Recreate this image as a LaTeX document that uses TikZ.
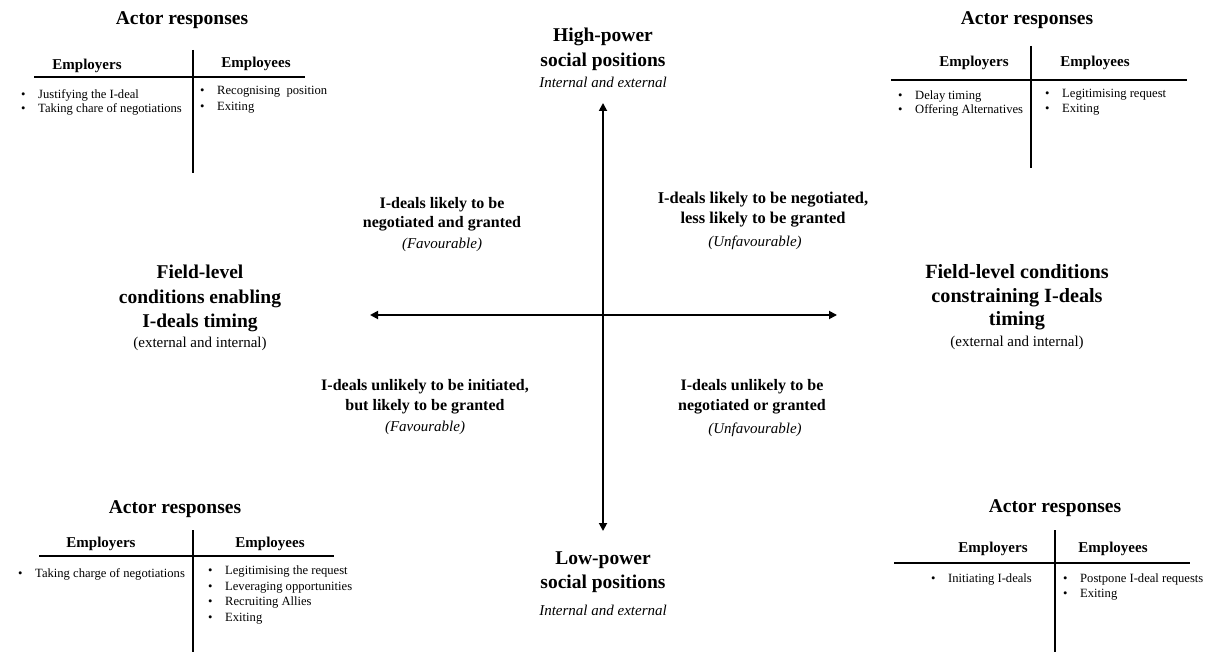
\documentclass[tikz,border=0pt]{standalone}
\usepackage{fontspec}
\setmainfont{Liberation Serif}
\usetikzlibrary{arrows.meta}

\tikzset{
  title/.style={font=\bfseries\fontsize{19.5}{22}\selectfont, anchor=base, inner sep=0pt},
  bigtitle/.style={font=\bfseries\fontsize{20.2}{23}\selectfont, anchor=base, inner sep=0pt},
  colhead/.style={font=\bfseries\fontsize{15}{18}\selectfont, anchor=base, inner sep=0pt},
  entry/.style={font=\fontsize{12.6}{15}\selectfont, anchor=base west, inner sep=0pt},
  quad/.style={font=\bfseries\fontsize{16}{19}\selectfont, anchor=base, inner sep=0pt},
  bigquad/.style={font=\bfseries\fontsize{16.5}{19}\selectfont, anchor=base, inner sep=0pt},
  note/.style={font=\itshape\fontsize{15}{18}\selectfont, anchor=base, inner sep=0pt},
  plain/.style={font=\fontsize{15}{18}\selectfont, anchor=base, inner sep=0pt},
  rule/.style={line width=1.3pt},
  axis/.style={line width=1.8pt, {Triangle[width=8pt,length=8pt]}-{Triangle[width=8pt,length=8pt]}},
}
\newcommand{\bul}[1]{\makebox[17pt][l]{\textbullet}#1}

\begin{document}
\begin{tikzpicture}[x=1pt,y=-1pt]
\useasboundingbox[fill=white] (0,0) rectangle (1209,652);

% ---------- axes ----------
\coordinate (top) at (603,103);
\coordinate (bottom) at (603,531);
\coordinate (left) at (370,315);
\coordinate (right) at (837,315);
\draw[axis] (bottom) -- (top);
\draw[axis] (left) -- (right);

% ---------- pole labels ----------
\node[title] (hp1) at (603,42) {High-power};
\node[title] (hp2) at (603,67) {social positions};
\node[note]  (hp3) at (603,88) {Internal and external};

\node[title] (lp1) at (603,564) {Low-power};
\node[title] (lp2) at (603,588) {social positions};
\node[note]  (lp3) at (603,615) {Internal and external};

\node[title] (fe1) at (200,278) {Field-level};
\node[title] (fe2) at (200,303) {conditions enabling};
\node[title] (fe3) at (200,327) {I-deals timing};
\node[plain] (fe4) at (200,347) {(external and internal)};

\node[bigtitle] (fc1) at (1017,278) {Field-level conditions};
\node[bigtitle] (fc2) at (1017,302) {constraining I-deals};
\node[bigtitle] (fc3) at (1017,325) {timing};
\node[plain] (fc4) at (1017,346) {(external and internal)};

% ---------- quadrant labels ----------
\node[quad] (q11) at (442,209) {I-deals likely to be};
\node[quad] (q12) at (442,228) {negotiated and granted};
\node[note] (q13) at (442,248) {(Favourable)};

\node[bigquad] (q21) at (763,204) {I-deals likely to be negotiated,};
\node[bigquad] (q22) at (763,224) {less likely to be granted};
\node[note] (q23) at (755,247) {(Unfavourable)};

\node[quad] (q31) at (425,390) {I-deals unlikely to be initiated,};
\node[quad] (q32) at (425,410) {but likely to be granted};
\node[note] (q33) at (425,431) {(Favourable)};

\node[quad] (q41) at (752,390) {I-deals unlikely to be};
\node[quad] (q42) at (752,410) {negotiated or granted};
\node[note] (q43) at (755,433) {(Unfavourable)};

% ---------- actor responses: top left ----------
\node[title] (tlT) at (182,25) {Actor responses};
\coordinate (tlV1) at (193,50);  \coordinate (tlV2) at (193,173);
\coordinate (tlH1) at (34,77);   \coordinate (tlH2) at (305,77);
\draw[rule] (tlV1) -- (tlV2);
\draw[rule] (tlH1) -- (tlH2);
\node[colhead] (tlA) at (87,70) {Employers};
\node[colhead] (tlB) at (256,68) {Employees};
\node[entry] (tlA1) at (21,99)  {\bul{Justifying the I-deal}};
\node[entry] (tlA2) at (21,113) {\bul{Taking chare of negotiations}};
\node[entry] (tlB1) at (200,95) {\bul{Recognising\ \ position}};
\node[entry] (tlB2) at (200,111) {\bul{Exiting}};

% ---------- actor responses: top right ----------
\node[title] (trT) at (1027,25) {Actor responses};
\coordinate (trV1) at (1031,46);  \coordinate (trV2) at (1031,168);
\coordinate (trH1) at (891,80);   \coordinate (trH2) at (1187,80);
\draw[rule] (trV1) -- (trV2);
\draw[rule] (trH1) -- (trH2);
\node[colhead] (trA) at (974,67) {Employers};
\node[colhead] (trB) at (1095,67) {Employees};
\node[entry] (trA1) at (898,100) {\bul{Delay timing}};
\node[entry] (trA2) at (898,114) {\bul{Offering Alternatives}};
\node[entry] (trB1) at (1045,98) {\bul{Legitimising request}};
\node[entry] (trB2) at (1045,113) {\bul{Exiting}};

% ---------- actor responses: bottom left ----------
\node[title] (blT) at (175,513) {Actor responses};
\coordinate (blV1) at (193,530);  \coordinate (blV2) at (193,652);
\coordinate (blH1) at (39,556);   \coordinate (blH2) at (334,556);
\draw[rule] (blV1) -- (blV2);
\draw[rule] (blH1) -- (blH2);
\node[colhead] (blA) at (101,547) {Employers};
\node[colhead] (blB) at (270,547) {Employees};
\node[entry] (blA1) at (18,577) {\bul{Taking charge of negotiations}};
\node[entry] (blB1) at (208,574) {\bul{Legitimising the request}};
\node[entry] (blB2) at (208,590) {\bul{Leveraging opportunities}};
\node[entry] (blB3) at (208,605) {\bul{Recruiting Allies}};
\node[entry] (blB4) at (208,621) {\bul{Exiting}};

% ---------- actor responses: bottom right ----------
\node[title] (brT) at (1055,512) {Actor responses};
\coordinate (brV1) at (1055,530);  \coordinate (brV2) at (1055,652);
\coordinate (brH1) at (894,563);   \coordinate (brH2) at (1190,563);
\draw[rule] (brV1) -- (brV2);
\draw[rule] (brH1) -- (brH2);
\node[colhead] (brA) at (993,552) {Employers};
\node[colhead] (brB) at (1113,552) {Employees};
\node[entry] (brA1) at (931,582) {\bul{Initiating I-deals}};
\node[entry] (brB1) at (1063,582) {\bul{Postpone I-deal requests}};
\node[entry] (brB2) at (1063,597) {\bul{Exiting}};
\end{tikzpicture}
\end{document}
